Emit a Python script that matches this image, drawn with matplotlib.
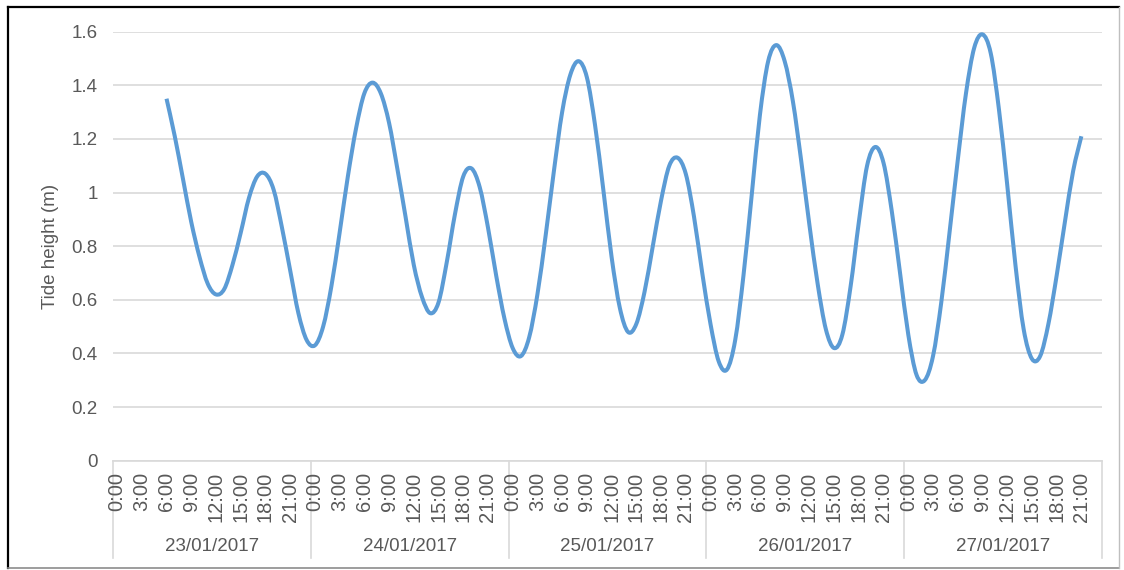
import matplotlib
matplotlib.use("Agg")
import matplotlib.pyplot as plt
import matplotlib.transforms as mtransforms
from matplotlib.lines import Line2D
from matplotlib.path import Path
from matplotlib.patches import PathPatch
import numpy as np

plt.rcParams['font.family'] = ['Liberation Sans', 'DejaVu Sans']

# hourly tide heights (m), 23/01/2017 06:00 to 27/01/2017 21:00
dates = ['23/01/2017', '24/01/2017', '25/01/2017', '26/01/2017', '27/01/2017']
hour_labels = ['0:00', '3:00', '6:00', '9:00', '12:00', '15:00', '18:00', '21:00']
first_hour = 6
heights = [
    1.35, 1.21, 1.05, 0.89, 0.76, 0.66, 0.62, 0.64, 0.73, 0.85, 0.98, 1.06,
    1.07, 1.01, 0.87, 0.71, 0.55, 0.45,
    0.43, 0.50, 0.65, 0.85, 1.06, 1.24, 1.37, 1.41, 1.37, 1.26, 1.09, 0.91,
    0.73, 0.61, 0.55, 0.59, 0.74, 0.92, 1.06, 1.09, 1.02, 0.87, 0.69, 0.53,
    0.42, 0.39, 0.46, 0.62, 0.84, 1.08, 1.30, 1.44, 1.49, 1.43, 1.25, 1.01,
    0.76, 0.57, 0.48, 0.51, 0.63, 0.80, 0.97, 1.10, 1.13, 1.07, 0.91, 0.70,
    0.51, 0.37, 0.34, 0.45, 0.69, 0.99, 1.29, 1.49, 1.55, 1.49, 1.34, 1.12,
    0.88, 0.66, 0.49, 0.42, 0.47, 0.65, 0.89, 1.10, 1.17, 1.11, 0.93, 0.70,
    0.47, 0.32, 0.30, 0.39, 0.59, 0.85, 1.12, 1.37, 1.54, 1.59, 1.52, 1.31,
    1.03, 0.73, 0.49, 0.38, 0.39, 0.51, 0.69, 0.89, 1.08, 1.21,
]

txt = '#595959'
n_hours = 24 * len(dates)


def smooth_path(xs, ys):
    # spreadsheet-style smoothed line: cubic Bezier through every point
    p = np.column_stack([xs, ys])
    ext = np.vstack([p[0], p, p[-1]])
    verts = [p[0]]
    codes = [Path.MOVETO]
    for k in range(len(p) - 1):
        p0, p1, p2, p3 = ext[k], ext[k + 1], ext[k + 2], ext[k + 3]
        verts += [p1 + (p2 - p0) / 6, p2 - (p3 - p1) / 6, p2]
        codes += [Path.CURVE4] * 3
    return Path(verts, codes)


fig = plt.figure(figsize=(11.24, 5.70), dpi=100)
ax = fig.add_axes([0.1005, 0.1918, 0.8799, 0.7526])

x = [first_hour + k + 0.5 for k in range(len(heights))]
ax.add_patch(PathPatch(smooth_path(x, heights), fill=False, edgecolor='#5B9BD5',
                       lw=2.9, joinstyle='round', capstyle='butt', zorder=3))

ax.set_xlim(0, n_hours)
ax.set_ylim(0, 1.6)
ax.set_yticks([0, 0.2, 0.4, 0.6, 0.8, 1.0, 1.2, 1.4, 1.6])
ax.set_yticklabels(['0', '0.2', '0.4', '0.6', '0.8', '1', '1.2', '1.4', '1.6'])
ax.yaxis.grid(True, color='#d9d9d9', lw=1.2)
ax.set_axisbelow(True)
for s in ['top', 'right', 'left']:
    ax.spines[s].set_visible(False)
ax.spines['bottom'].set_color('#d9d9d9')
ax.spines['bottom'].set_linewidth(1.2)
ax.tick_params(axis='y', length=0, labelsize=13.5, labelcolor=txt, pad=11)
ax.set_ylabel('Tide height (m)', fontsize=13.5, color=txt, labelpad=9)

# two-level category axis: hours then dates
ticks, labels = [], []
for d in range(len(dates)):
    for j, lab in enumerate(hour_labels):
        ticks.append(d * 24 + j * 3 + 0.5)
        labels.append(lab)
ax.set_xticks(ticks)
ax.set_xticklabels(labels, rotation=90, va='top', ha='center')
ax.tick_params(axis='x', length=0, labelsize=14.5, labelcolor=txt, pad=8)

trans = mtransforms.blended_transform_factory(ax.transData, ax.transAxes)
for d in range(len(dates) + 1):
    ax.plot([d * 24, d * 24], [0, -0.226], transform=trans, color='#d9d9d9',
            lw=1.2, clip_on=False, zorder=0)
for d, lab in enumerate(dates):
    ax.text(d * 24 + 12, -0.201, lab, transform=trans, ha='center',
            va='center', fontsize=13.5, color=txt)

# chart frame
fig.add_artist(Line2D([8 / 1124, 8 / 1124], [1 - 568 / 570, 1 - 7 / 570],
                      color='black', lw=1.6))
fig.add_artist(Line2D([8 / 1124, 1119 / 1124], [1 - 7 / 570, 1 - 7 / 570],
                      color='black', lw=1.6))
fig.add_artist(Line2D([8 / 1124, 1119 / 1124], [1 - 568 / 570, 1 - 568 / 570],
                      color='#8c8c8c', lw=1.2))
fig.add_artist(Line2D([1119 / 1124, 1119 / 1124], [1 - 568 / 570, 1 - 7 / 570],
                      color='#bfbfbf', lw=1.0))

fig.savefig('out.png', dpi=100)
